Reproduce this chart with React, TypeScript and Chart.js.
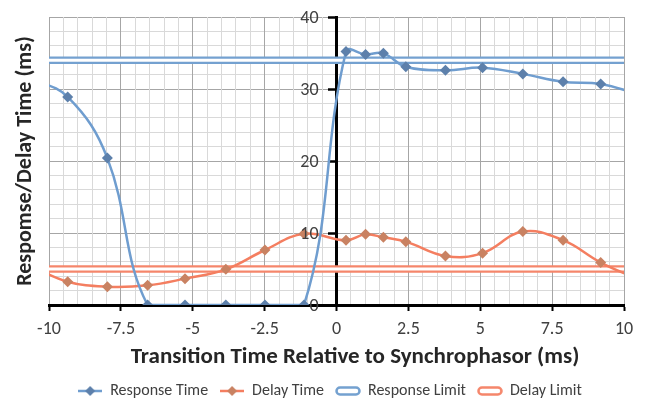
import React, { useEffect, useRef } from 'react';
import { Chart, registerables } from 'chart.js';

Chart.register(...registerables);

// ---- data ----
const transitionTimes = [-10.73, -9.35, -7.97, -6.57, -5.27, -3.85, -2.49, -1.13, 0.33, 1.01, 1.63, 2.41, 3.79, 5.08, 6.48, 7.88, 9.19, 10.55];
const responseTime = [31.6, 28.9, 20.4, 0, 0, 0, 0, 0, 35.2, 34.8, 34.95, 33.1, 32.6, 32.96, 32.1, 31.0, 30.7, 29.2];
const delayTime = [5.6, 3.24, 2.54, 2.73, 3.66, 4.95, 7.64, 9.9, 8.98, 9.81, 9.4, 8.8, 6.8, 7.2, 10.2, 9.0, 5.9, 3.5];
const limitX = [-10, 10];
const responseLimit = [34, 34];
const delayLimit = [5, 5];
const yTickLabels = [0, 10, 20, 30, 40];
const seriesNames = ['Response Time', 'Delay Time', 'Response Limit', 'Delay Limit'];
const xTitle = 'Transition Time Relative to Synchrophasor (ms)';
const yTitle = 'Respomse/Delay Time (ms)';

const FONT = 'Carlito, Lato, sans-serif';
const BLUE_LINE = '#6f9dcf';
const BLUE_MARK = '#5d80ab';
const ORANGE_LINE = '#f47e60';
const ORANGE_MARK = '#c98262';
const BLUE_LIMIT = '#74a1d0';
const ORANGE_LIMIT = '#f5866b';

function pts(xs: number[], ys: number[]) {
  return xs.map((x, i) => ({ x, y: ys[i] }));
}

function seriesIcon(line: string, mark: string) {
  const c = document.createElement('canvas');
  c.width = 24; c.height = 12;
  const g = c.getContext('2d')!;
  g.strokeStyle = line; g.lineWidth = 2.5;
  g.beginPath(); g.moveTo(0, 6); g.lineTo(24, 6); g.stroke();
  g.fillStyle = mark;
  g.beginPath(); g.moveTo(12, 1); g.lineTo(17, 6); g.lineTo(12, 11); g.lineTo(7, 6); g.closePath(); g.fill();
  return c;
}

function limitIcon(color: string) {
  const c = document.createElement('canvas');
  c.width = 26; c.height = 10;
  const g = c.getContext('2d')!;
  g.strokeStyle = color; g.lineWidth = 2.5;
  g.beginPath();
  (g as any).roundRect(1.5, 1.5, 23, 7, 3.5);
  g.stroke();
  return c;
}

const isMajorX = (v: number) => Math.abs(v / 2.5 - Math.round(v / 2.5)) < 1e-6;
const isMajorY = (v: number) => Math.abs(v / 10 - Math.round(v / 10)) < 1e-6;

export default function App() {
  const ref = useRef<HTMLCanvasElement>(null);
  useEffect(() => {
    if (!ref.current) return;
    const icons = [
      seriesIcon(BLUE_LINE, BLUE_MARK),
      seriesIcon(ORANGE_LINE, ORANGE_MARK),
      limitIcon(BLUE_LIMIT),
      limitIcon(ORANGE_LIMIT),
    ];
    const textPlugin = {
      id: 'textPlugin',
      afterLayout(chart: any) {
        if (chart.legend) {
          chart.legend.left += 18;
          chart.legend.right += 18;
        }
      },
      afterDraw(chart: any) {
        const g = chart.ctx;
        const xs = chart.scales.x;
        const ys = chart.scales.y;
        g.save();
        // y tick labels to the left of the centred axis
        g.font = `18px ${FONT}`;
        g.fillStyle = '#404040';
        g.textAlign = 'right';
        g.textBaseline = 'middle';
        const ax = xs.getPixelForValue(0);
        yTickLabels.forEach((v) => {
          g.fillText(String(v), ax - 18, ys.getPixelForValue(v) + 1);
        });
        // x axis title
        g.font = `bold 23px ${FONT}`;
        g.fillStyle = '#262626';
        g.textAlign = 'center';
        g.fillText(xTitle, 355, 357);
        g.restore();
      },
    };
    const chart = new Chart(ref.current, {
      type: 'line',
      data: {
        datasets: [
          {
            label: seriesNames[0], data: pts(transitionTimes, responseTime), xAxisID: 'x', yAxisID: 'y',
            borderColor: BLUE_LINE, backgroundColor: BLUE_MARK, borderWidth: 2.5,
            pointStyle: 'rectRot', pointRadius: 5.5, pointBorderWidth: 0, pointBackgroundColor: BLUE_MARK,
            tension: 0.4, order: 0,
          },
          {
            label: seriesNames[1], data: pts(transitionTimes, delayTime), xAxisID: 'x', yAxisID: 'y',
            borderColor: ORANGE_LINE, backgroundColor: ORANGE_MARK, borderWidth: 2.5,
            pointStyle: 'rectRot', pointRadius: 5.5, pointBorderWidth: 0, pointBackgroundColor: ORANGE_MARK,
            tension: 0.4, order: 0,
          },
          {
            label: seriesNames[2], data: pts(limitX, responseLimit), xAxisID: 'x', yAxisID: 'y',
            borderColor: BLUE_LIMIT, borderWidth: 7.5, pointRadius: 0, order: 2,
          },
          {
            label: seriesNames[3], data: pts(limitX, delayLimit), xAxisID: 'x', yAxisID: 'y',
            borderColor: ORANGE_LIMIT, borderWidth: 7.5, pointRadius: 0, order: 2,
          },
          {
            label: 'rl-inner', data: pts(limitX, responseLimit), xAxisID: 'x', yAxisID: 'y',
            borderColor: '#ffffff', borderWidth: 3, pointRadius: 0, order: 1,
          },
          {
            label: 'dl-inner', data: pts(limitX, delayLimit), xAxisID: 'x', yAxisID: 'y',
            borderColor: '#ffffff', borderWidth: 3, pointRadius: 0, order: 1,
          },
        ],
      },
      options: {
        responsive: false,
        animation: false,
        devicePixelRatio: 1,
        layout: { padding: { top: 17, right: 24, bottom: -3, left: 0 } },
        font: { family: FONT },
        scales: {
          y: {
            type: 'linear', axis: 'y', position: { x: 0 } as any, min: 0, max: 40,
            ticks: {
              stepSize: 2, autoSkip: false, padding: 10,
              callback: () => '',
              font: { size: 1, family: FONT }, color: '#404040',
            },
            grid: {
              color: (c: any) => (c.tick && isMajorY(c.tick.value) ? '#a6a6a6' : '#d9d9d9'),
              lineWidth: 1, tickLength: 7, tickWidth: 2.5,
              tickColor: (c: any) => (c.tick && isMajorY(c.tick.value) ? '#000000' : 'rgba(0,0,0,0)'),
            },
            border: { color: '#000000', width: 3 },
          },
          yTitle: {
            type: 'linear', axis: 'y', position: 'left',
            ticks: { display: false }, grid: { display: false }, border: { display: false },
            title: {
              display: true, text: yTitle, font: { size: 22, weight: 'bold', family: FONT }, color: '#262626',
              padding: { top: 12, bottom: 0 },
            },
            afterFit: (s: any) => { s.width = 49; },
          },
          x: {
            type: 'linear', position: 'bottom', min: -10, max: 10,
            ticks: {
              stepSize: 0.5, autoSkip: false, maxRotation: 0, padding: 8,
              callback: (v: any) => (isMajorX(Number(v)) ? String(v) : ''),
              font: { size: 18, family: FONT }, color: '#404040',
            },
            grid: {
              color: (c: any) => (c.tick && isMajorX(c.tick.value) ? '#a6a6a6' : '#d9d9d9'),
              lineWidth: 1, tickLength: 6, tickWidth: 2,
              tickColor: (c: any) => (c.tick && isMajorX(c.tick.value) ? '#000000' : 'rgba(0,0,0,0)'),
            },
            border: { color: '#000000', width: 3 },
            afterFit: (s: any) => { s.height = 66; },
          },
        },
        plugins: {
          tooltip: { enabled: false },
          legend: {
            position: 'bottom',
            onClick: () => {},
            labels: {
              usePointStyle: true, pointStyleWidth: 24, padding: 12,
              font: { size: 16, family: FONT }, color: '#404040',
              generateLabels: () => seriesNames.map((t, i) => ({
                text: t, pointStyle: icons[i] as any, fillStyle: 'transparent', strokeStyle: 'transparent',
                lineWidth: 0, hidden: false, datasetIndex: i, fontColor: '#404040',
              })),
            },
          },
        },
      } as any,
      plugins: [textPlugin],
    });
    return () => chart.destroy();
  }, []);
  return (
    <div style={{ position: 'absolute', left: 0, top: 0, width: 648, height: 406, background: '#fff' }}>
      <canvas ref={ref} width={648} height={406} />
    </div>
  );
}
